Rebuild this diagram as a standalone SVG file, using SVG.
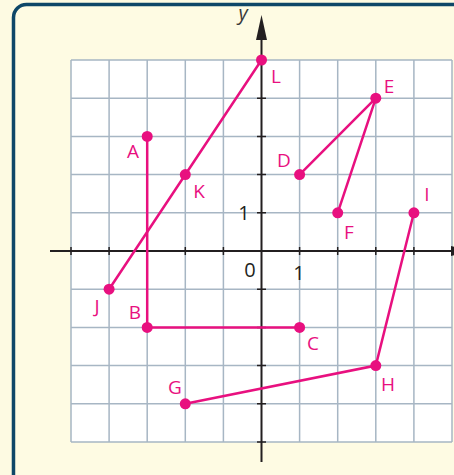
<svg xmlns="http://www.w3.org/2000/svg" width="454" height="475" viewBox="0 0 454 475">
<style>
.grid{stroke:#a7b6c4;stroke-width:1.5;fill:none}
.axis{stroke:#231f20;stroke-width:2;fill:none}
.tick{stroke:#231f20;stroke-width:1.5}
.seg{stroke:#e8107f;stroke-width:2.5;fill:none;stroke-linecap:round}
.dot{fill:#e8107f}
.lbl{font-family:"Open Sans","Noto Sans",sans-serif;font-size:19px;fill:#e8107f;text-anchor:middle}
.num{font-family:"Open Sans","Noto Sans",sans-serif;font-size:20px;fill:#231f20;text-anchor:middle}
</style>
<rect x="0" y="0" width="454" height="475" fill="#fdfae2"/>
<rect x="13.5" y="4.5" width="470" height="490" rx="13" fill="#fefbe3" stroke="#0e4768" stroke-width="3.5"/>
<g id="grid">
<rect x="71" y="60" width="381" height="382" fill="#ffffff"/>
<path class="grid" d="M71 60V442M109.1 60V442M147.2 60V442M185.3 60V442M223.4 60V442M299.6 60V442M337.7 60V442M375.8 60V442M413.9 60V442M452 60V442M71 60H452M71 98.2H452M71 136.4H452M71 174.6H452M71 212.8H452M71 289.2H452M71 327.4H452M71 365.6H452M71 403.8H452M71 442H452"/>
</g>
<g id="axes">
<path class="axis" d="M50 251H458"/>
<path class="axis" d="M261.5 462V36"/>
<polygon points="261.5,15 256,40 267,40" fill="#231f20"/>
<polygon points="472,251 451,246 451,256" fill="#231f20"/>
<path class="tick" d="M71 247V255M109.1 247V255M147.2 247V255M185.3 247V255M223.4 247V255M299.6 247V255M337.7 247V255M375.8 247V255M413.9 247V255M452 247V255M257 60H266M257 98.2H266M257 136.4H266M257 174.6H266M257 212.8H266M257 289.2H266M257 327.4H266M257 365.6H266M257 403.8H266M257 442H266"/>
<text x="243" y="20" font-family="'Open Sans','Noto Sans',sans-serif" font-size="20" font-style="italic" fill="#3a3a3a" text-anchor="middle">y</text>
<text class="num" x="250" y="277">0</text>
<text class="num" x="299" y="280">1</text>
<text class="num" x="244" y="220">1</text>
</g>
<g id="connectors">
<path class="seg" d="M109.1 289.2L261.5 60"/>
<path class="seg" d="M147.2 136.4V327.4H299.6"/>
<path class="seg" d="M299.6 174.6L375.8 98.2L337.7 212.8"/>
<path class="seg" d="M413.9 212.8L375.8 365.6L185.3 403.8"/>
</g>
<g id="L"><circle class="dot" cx="261.5" cy="60" r="5.5"/><text class="lbl" x="276" y="83">L</text></g>
<g id="E"><circle class="dot" cx="375.8" cy="98.2" r="5.5"/><text class="lbl" x="389" y="93">E</text></g>
<g id="A"><circle class="dot" cx="147.2" cy="136.4" r="5.5"/><text class="lbl" x="133" y="158">A</text></g>
<g id="K"><circle class="dot" cx="185.3" cy="174.6" r="5.5"/><text class="lbl" x="199" y="198">K</text></g>
<g id="D"><circle class="dot" cx="299.6" cy="174.6" r="5.5"/><text class="lbl" x="284" y="167">D</text></g>
<g id="F"><circle class="dot" cx="337.7" cy="212.8" r="5.5"/><text class="lbl" x="349" y="239">F</text></g>
<g id="I"><circle class="dot" cx="413.9" cy="212.8" r="5.5"/><text class="lbl" x="427" y="201">I</text></g>
<g id="J"><circle class="dot" cx="109.1" cy="289.2" r="5.5"/><text class="lbl" x="97" y="313">J</text></g>
<g id="B"><circle class="dot" cx="147.2" cy="327.4" r="5.5"/><text class="lbl" x="135" y="319">B</text></g>
<g id="C"><circle class="dot" cx="299.6" cy="327.4" r="5.5"/><text class="lbl" x="313" y="350">C</text></g>
<g id="H"><circle class="dot" cx="375.8" cy="365.6" r="5.5"/><text class="lbl" x="388" y="391">H</text></g>
<g id="G"><circle class="dot" cx="185.3" cy="403.8" r="5.5"/><text class="lbl" x="175" y="394">G</text></g>
</svg>
